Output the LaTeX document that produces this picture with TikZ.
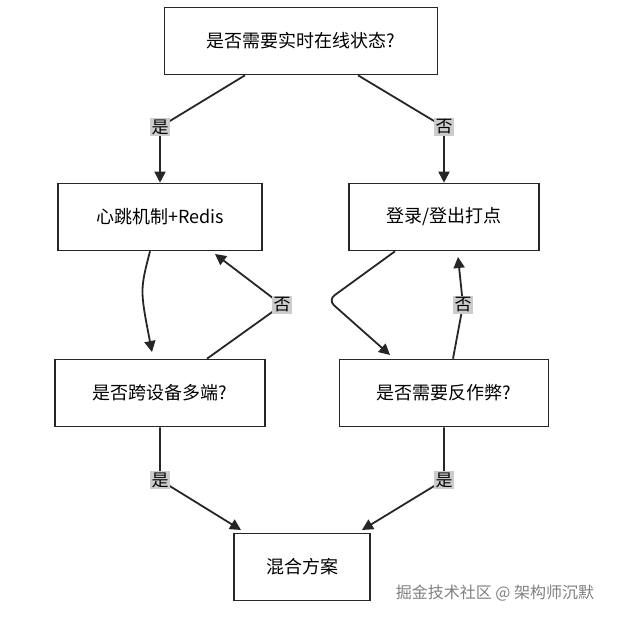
\documentclass[tikz,border=0pt]{standalone}
\usepackage{fontspec}
\setmainfont{Noto Sans CJK SC}
\usetikzlibrary{arrows.meta}
\begin{document}
\begin{tikzpicture}[x=1pt,y=-1pt,
  box/.style={draw=black!85,line width=1.6pt,fill=white,minimum height=67pt,inner sep=0pt,font=\fontsize{18}{21}\selectfont},
  lab/.style={fill=black!20,inner sep=1.5pt,font=\fontsize{17}{19}\selectfont},
  conn/.style={draw=black!85,line width=1.8pt,-{Triangle[length=11pt,width=11pt]}}]
\useasboundingbox (0,0) rectangle (626,620);
\node[box,minimum width=273pt] (top) at (301,41) {是否需要实时在线状态?};
\node[box,minimum width=204pt] (hb) at (160,217) {心跳机制+Redis};
\node[box,minimum width=190pt] (lg) at (444,217) {登录/登出打点};
\node[box,minimum width=210pt] (cd) at (160,393) {是否跨设备多端?};
\node[box,minimum width=209pt] (ac) at (444,393) {是否需要反作弊?};
\node[box,minimum width=136pt] (hy) at (302,567) {混合方案};
\coordinate (a1) at (160,127);
\coordinate (a2) at (444,127);
\coordinate (b1) at (282,305);
\coordinate (b2) at (463,305);
\coordinate (c1) at (160,480);
\coordinate (c2) at (444,480);
\draw[conn] (top.south west -| 245,0) -- (a1) -- (hb.north);
\draw[conn] (top.south west -| 358,0) -- (a2) -- (lg.north);
\draw[conn] (hb.south -| 150,0) .. controls (140,290) .. (152,352);
\draw[conn] (cd.north -| 207,0) -- (b1) -- (215,254);
\draw[conn,rounded corners=8pt] (lg.south -| 395,0) -- (328,300) -- (390,355);
\draw[conn] (ac.north -| 453,0) -- (b2) -- (458,257);
\draw[conn] (cd.south) -- (c1) -- (241,530);
\draw[conn] (ac.south) -- (c2) -- (362,530);
\node[lab] (l1) at (a1) {是};
\node[lab] (l2) at (a2) {否};
\node[lab] (l3) at (b1) {否};
\node[lab] (l4) at (b2) {否};
\node[lab] (l5) at (c1) {是};
\node[lab] (l6) at (c2) {是};
\node[text=black!50,font=\fontsize{16}{18}\selectfont] (wm) at (495,593) {掘金技术社区 @ 架构师沉默};
\end{tikzpicture}
\end{document}
